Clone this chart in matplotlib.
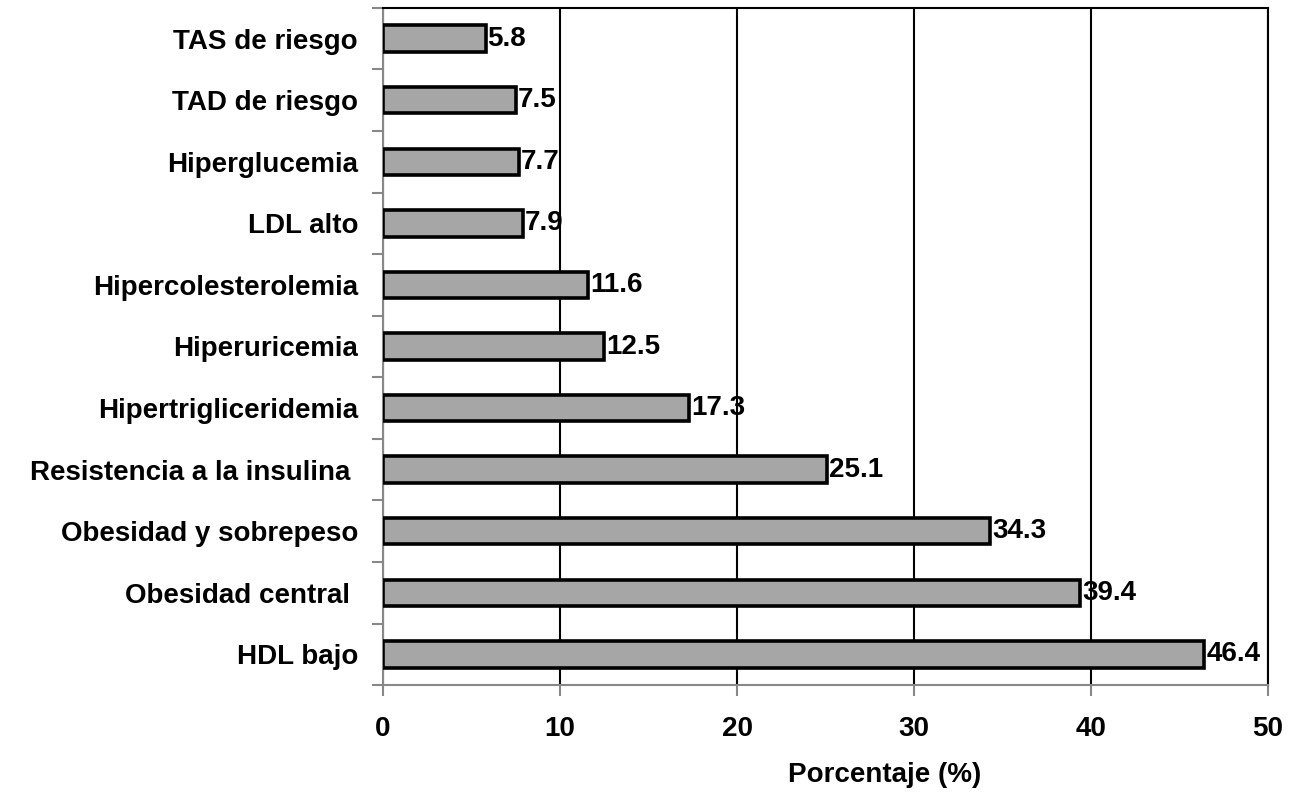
import numpy as np
import matplotlib.pyplot as plt

categorias = ['TAS de riesgo', 'TAD de riesgo', 'Hiperglucemia', 'LDL alto',
              'Hipercolesterolemia', 'Hiperuricemia', 'Hipertrigliceridemia',
              'Resistencia a la insulina ', 'Obesidad y sobrepeso',
              'Obesidad central ', 'HDL bajo']
valores = [5.8, 7.5, 7.7, 7.9, 11.6, 12.5, 17.3, 25.1, 34.3, 39.4, 46.4]
xticks = [0, 10, 20, 30, 40, 50]

plt.rcParams['font.family'] = ['Liberation Sans', 'DejaVu Sans']
plt.rcParams['font.weight'] = 'bold'
fs = 20

fig = plt.figure(figsize=(12.94, 7.92), dpi=100)
ax = fig.add_axes([0.296, 0.135, 0.684, 0.855])

y = np.arange(len(categorias))
ax.barh(y, valores, height=0.43, color='#a6a6a6', edgecolor='black',
        linewidth=2.6, zorder=3)
for yi, v in zip(y, valores):
    ax.text(v + 0.1, yi, f'{v}', va='center', ha='left', fontsize=fs,
            fontweight='bold', color='black', zorder=4)

ax.set_xlim(0, 50)
ax.set_ylim(len(categorias) - 0.5, -0.5)
ax.set_xticks(xticks)
ax.set_xticklabels([str(t) for t in xticks], fontsize=fs, fontweight='bold')
ax.set_yticks(y)
ax.set_yticklabels(categorias, fontsize=fs, fontweight='bold')
ax.set_yticks(np.arange(-0.5, len(categorias)), minor=True)
ax.tick_params(axis='y', which='major', length=0, pad=18)
ax.tick_params(axis='y', which='minor', length=8, color='#888888', width=1.5)
ax.tick_params(axis='x', length=8, color='#888888', width=1.5, pad=14)

ax.xaxis.grid(True, color='black', linewidth=1.5, zorder=1)
ax.set_axisbelow(True)

for s in ['left', 'bottom']:
    ax.spines[s].set_color('#888888')
    ax.spines[s].set_linewidth(1.5)
for s in ['top', 'right']:
    ax.spines[s].set_color('black')
    ax.spines[s].set_linewidth(1.5)

ax.set_xlabel('Porcentaje (%)', fontsize=fs, fontweight='bold')
ax.xaxis.set_label_coords(0.567, -0.113)

fig.savefig('out.png', dpi=100)
